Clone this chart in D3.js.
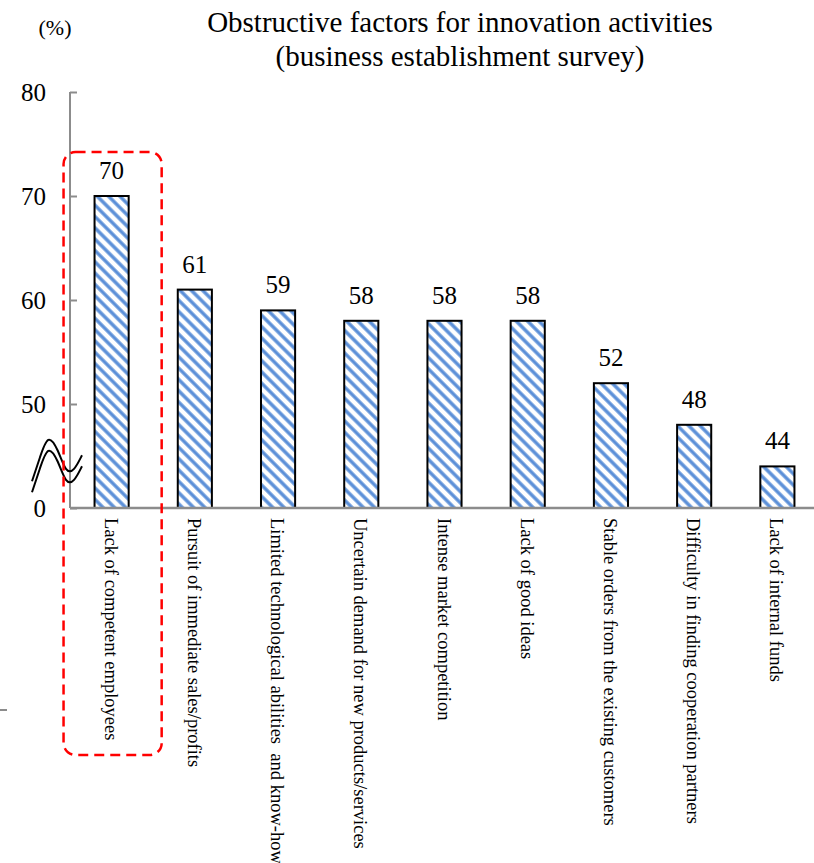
<!DOCTYPE html>
<html>
<head>
<meta charset="utf-8">
<script src="https://cdn.jsdelivr.net/npm/d3@7"></script>
<style>
  html, body { margin: 0; padding: 0; background: #fff; }
  svg { display: block; font-family: "Liberation Serif", "Times New Roman", serif; }
</style>
</head>
<body>
<svg id="chart" width="814" height="863"></svg>
<script>
// Survey results: share of establishments citing each obstacle (%)
const categories = [
  "Lack of competent employees",
  "Pursuit of immediate sales/profits",
  "Limited technological abilities\u00a0 and know-how",
  "Uncertain demand for new products/services",
  "Intense market competition",
  "Lack of good ideas",
  "Stable orders from the existing customers",
  "Difficulty in finding cooperation partners",
  "Lack of internal funds"
];
const values = [70, 61, 59, 58, 58, 58, 52, 48, 44];
// Axis is broken: its base (shown as 0) stands in for 40
const tickValues = [40, 50, 60, 70, 80];
const tickLabels = ["0", "50", "60", "70", "80"];
const titleLines = [
  "Obstructive factors for innovation activities",
  "(business establishment survey)"
];
const unitLabel = "(%)";

const svg = d3.select("#chart");
const axisColor = "#8c8c8c";

const x = d3.scaleBand()
  .domain(categories)
  .range([70, 819])
  .paddingInner(0.59)
  .paddingOuter(0.295);

const y = d3.scaleLinear()
  .domain([40, 80])
  .range([508, 92]);

// Diagonal hatch fill for the bars
const defs = svg.append("defs");
const pat = defs.append("pattern")
  .attr("id", "hatch")
  .attr("patternUnits", "userSpaceOnUse")
  .attr("width", 8)
  .attr("height", 8)
  .attr("patternTransform", "rotate(-45)");
pat.append("rect").attr("width", 8).attr("height", 8).attr("fill", "#fff");
pat.append("line")
  .attr("x1", 2).attr("y1", 0).attr("x2", 2).attr("y2", 8)
  .attr("stroke", "#5b8fd8")
  .attr("stroke-width", 3.4);

// Title
svg.append("text")
  .attr("x", 460)
  .attr("y", 32)
  .attr("text-anchor", "middle")
  .attr("font-size", 29)
  .selectAll("tspan")
  .data(titleLines)
  .join("tspan")
  .attr("x", 460)
  .attr("dy", (d, i) => i === 0 ? 0 : 34)
  .text(d => d);

// Unit label
svg.append("text")
  .attr("x", 55)
  .attr("y", 35)
  .attr("text-anchor", "middle")
  .attr("font-size", 22)
  .text(unitLabel);

// Y axis
const yAxis = svg.append("g")
  .attr("transform", `translate(${x.range()[0]},0)`)
  .call(d3.axisRight(y)
    .tickValues(tickValues)
    .tickSize(7)
    .tickFormat((d, i) => tickLabels[i]));
yAxis.select(".domain").attr("stroke", axisColor).attr("stroke-width", 2)
  .attr("d", `M0,${y(80)}V${y(40)}`);
yAxis.selectAll(".tick line").attr("stroke", axisColor).attr("stroke-width", 2);
yAxis.selectAll(".tick text")
  .attr("x", -24)
  .attr("text-anchor", "end")
  .attr("fill", "#000")
  .attr("font-family", "Liberation Serif, Times New Roman, serif")
  .attr("font-size", 25)
  .attr("dy", "0.33em");

// Bars
svg.append("g")
  .selectAll("rect")
  .data(values)
  .join("rect")
  .attr("x", (d, i) => x(categories[i]))
  .attr("y", d => y(d))
  .attr("width", x.bandwidth())
  .attr("height", d => y(40) - y(d))
  .attr("fill", "url(#hatch)")
  .attr("stroke", "#000")
  .attr("stroke-width", 2);

// X axis baseline
svg.append("line")
  .attr("x1", x.range()[0])
  .attr("x2", 814)
  .attr("y1", y(40))
  .attr("y2", y(40))
  .attr("stroke", axisColor)
  .attr("stroke-width", 2.5);

// Value labels
svg.append("g")
  .selectAll("text")
  .data(values)
  .join("text")
  .attr("x", (d, i) => x(categories[i]) + x.bandwidth() / 2)
  .attr("y", d => y(d) - 17)
  .attr("text-anchor", "middle")
  .attr("font-size", 25)
  .text(d => d);

// Category labels, rotated to read top-to-bottom
svg.append("g")
  .selectAll("text")
  .data(categories)
  .join("text")
  .attr("transform", d => `translate(${x(d) + x.bandwidth() / 2 - 7},${y(40) + 10}) rotate(90)`)
  .attr("font-size", 18.5)
  .style("white-space", "pre")
  .text(d => d);

// Axis break marks
const bx = x.range()[0], by = y(44.5);
const wave = d3.line().curve(d3.curveBasis);
const wavePts = [[-38, 20], [-30, -4], [-22, -28], [-12, -12], [-4, 12], [4, 10], [12, -6]];
[0, 11].forEach(off => {
  svg.append("path")
    .attr("d", wave(wavePts.map(p => [bx + p[0], by + p[1] + off])))
    .attr("fill", "none")
    .attr("stroke", "#000")
    .attr("stroke-width", 2);
});

// Highlight frame around the leading obstacle
const first = categories[0];
const fx0 = x(first) - 31, fx1 = x(first) + x.bandwidth() + 33;
svg.append("rect")
  .attr("x", fx0)
  .attr("y", y(values[0]) - 44)
  .attr("width", fx1 - fx0)
  .attr("height", 755 - (y(values[0]) - 44))
  .attr("rx", 12)
  .attr("fill", "none")
  .attr("stroke", "#ff0000")
  .attr("stroke-width", 2.5)
  .attr("stroke-dasharray", "10,6");

// Stray tick at the left edge
svg.append("line")
  .attr("x1", 0).attr("x2", 7)
  .attr("y1", 710).attr("y2", 710)
  .attr("stroke", axisColor)
  .attr("stroke-width", 2);
</script>
</body>
</html>
